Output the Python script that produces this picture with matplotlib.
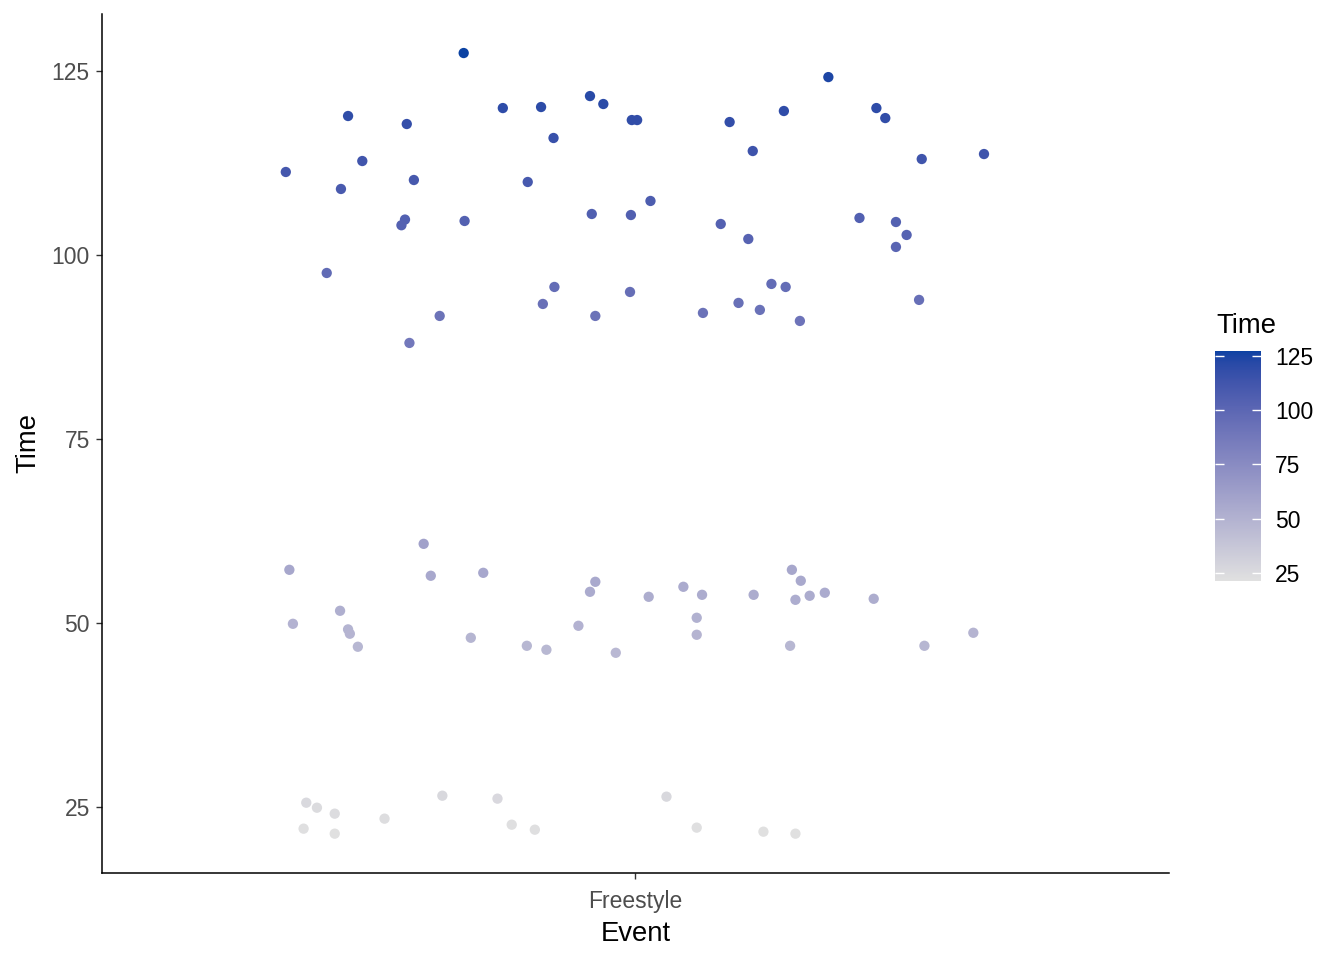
import numpy as np
import matplotlib
matplotlib.use('Agg')
import matplotlib.pyplot as plt
from matplotlib.colors import ListedColormap, Normalize

plt.rcParams['font.family'] = ['Liberation Sans', 'DejaVu Sans']

# one event, points jittered sideways (offsets, in category units)
event = 'Freestyle'

time_100 = [127.45, 118.89, 117.80, 119.97, 120.11, 121.60, 120.52, 118.34, 118.34, 115.90,
            112.77, 111.28, 108.97, 110.19, 109.92, 104.81, 104.04, 104.62, 105.57, 105.43,
            97.55, 95.65, 93.34, 94.97, 91.71, 91.71, 88.04, 124.18, 118.07, 119.57,
            119.97, 118.61, 114.13, 113.04, 113.72, 107.34, 104.21, 102.17, 105.03, 104.48,
            102.72, 101.09, 96.06, 95.65, 92.12, 93.48, 92.53, 91.03, 93.89]
jit_100 = [-0.193, -0.323, -0.257, -0.149, -0.106, -0.051, -0.036, -0.004, 0.002, -0.092,
           -0.307, -0.393, -0.331, -0.249, -0.121, -0.259, -0.263, -0.192, -0.049, -0.005,
           -0.347, -0.091, -0.104, -0.006, -0.220, -0.045, -0.254, 0.217, 0.106, 0.167,
           0.271, 0.281, 0.132, 0.322, 0.392, 0.017, 0.096, 0.127, 0.252, 0.293,
           0.305, 0.293, 0.153, 0.169, 0.076, 0.116, 0.140, 0.185, 0.319]

time_50 = [60.73, 57.20, 56.39, 56.79, 55.57, 54.21, 51.63, 49.86, 49.10, 48.51,
           46.74, 47.96, 49.59, 46.87, 46.33, 45.92, 57.20, 55.71, 54.89, 53.53,
           53.80, 53.80, 53.12, 53.67, 54.08, 53.26, 50.68, 48.37, 46.87, 46.87, 48.64]
jit_50 = [-0.238, -0.389, -0.230, -0.171, -0.045, -0.051, -0.332, -0.385, -0.323, -0.321,
          -0.312, -0.185, -0.064, -0.122, -0.100, -0.022, 0.176, 0.186, 0.054, 0.015,
          0.075, 0.133, 0.180, 0.196, 0.213, 0.268, 0.069, 0.069, 0.174, 0.325, 0.380]

time_25 = [26.49, 26.09, 25.54, 24.86, 24.05, 23.37, 22.55, 22.01, 21.87, 21.33,
           26.36, 22.15, 21.60, 21.33]
jit_25 = [-0.217, -0.155, -0.370, -0.358, -0.338, -0.282, -0.139, -0.373, -0.113, -0.338,
          0.035, 0.069, 0.144, 0.180]

y_ticks = [25, 50, 75, 100, 125]

low_col = '#E0E0E0'
high_col = '#0B42A3'


# gradient in Lab space like ggplot's scale_colour_gradient
WHITE = np.array([0.95047, 1.0, 1.08883])
M = np.array([[0.4124564, 0.3575761, 0.1804375],
              [0.2126729, 0.7151522, 0.0721750],
              [0.0193339, 0.1191920, 0.9503041]])


def hex_to_lab(h):
    c = np.array([int(h[i:i + 2], 16) for i in (1, 3, 5)]) / 255.0
    lin = np.where(c <= 0.04045, c / 12.92, ((c + 0.055) / 1.055) ** 2.4)
    t = (M @ lin) / WHITE
    d = 6 / 29
    f = np.where(t > d ** 3, np.cbrt(t), t / (3 * d * d) + 4 / 29)
    return np.array([116 * f[1] - 16, 500 * (f[0] - f[1]), 200 * (f[1] - f[2])])


def lab_to_rgb(lab):
    L, a, b = lab[:, 0], lab[:, 1], lab[:, 2]
    fy = (L + 16) / 116
    fx = fy + a / 500
    fz = fy - b / 200
    d = 6 / 29
    f = np.stack([fx, fy, fz], axis=1)
    t = np.where(f > d, f ** 3, 3 * d * d * (f - 4 / 29)) * WHITE
    lin = t @ np.linalg.inv(M).T
    lin = np.clip(lin, 0, 1)
    c = np.where(lin <= 0.0031308, 12.92 * lin, 1.055 * lin ** (1 / 2.4) - 0.055)
    return np.clip(c, 0, 1)


w = np.linspace(0, 1, 256)[:, None]
lab = (1 - w) * hex_to_lab(low_col) + w * hex_to_lab(high_col)
cmap = ListedColormap(lab_to_rgb(lab))

times = np.array(time_100 + time_50 + time_25)
xs = 1 + np.array(jit_100 + jit_50 + jit_25)
norm = Normalize(vmin=times.min(), vmax=times.max())

fig = plt.figure(figsize=(13.44, 9.6), dpi=100)
ax = fig.add_axes([101.7 / 1344, 1 - 872.7 / 960, (1169 - 101.7) / 1344, (872.7 - 14) / 960])

sc = ax.scatter(xs, times, c=times, cmap=cmap, norm=norm, s=55, linewidths=0)

ax.set_xlim(0.4, 1.6)
rng = times.max() - times.min()
ax.set_ylim(times.min() - 0.05 * rng, times.max() + 0.05 * rng)
ax.set_xticks([1])
ax.set_xticklabels([event])
ax.set_yticks(y_ticks)

for s in ['top', 'right']:
    ax.spines[s].set_visible(False)
for s in ['left', 'bottom']:
    ax.spines[s].set_linewidth(1.1)
    ax.spines[s].set_color('black')
ax.tick_params(length=4, width=1, color='#333333', labelcolor='#4D4D4D',
               labelsize=16.5)
ax.tick_params(axis='y', pad=4.6)
ax.tick_params(axis='x', pad=8.5)
ax.set_xlabel('Event', fontsize=19.8, labelpad=6)
ax.set_ylabel('Time', fontsize=19.8, labelpad=7)

# colour bar legend
cax = fig.add_axes([1215 / 1344, 1 - 580.7 / 960, 46 / 1344, 230 / 960])
cb = fig.colorbar(sc, cax=cax, ticks=y_ticks)
cb.outline.set_visible(False)
cax.tick_params(which='both', direction='in', color='white', length=6.5, width=1,
                left=True, right=True, labelleft=False, labelright=True,
                labelsize=16.5, pad=10)
fig.text(1216 / 1344, 1 - 333 / 960, 'Time', fontsize=19.8, ha='left', va='baseline')

fig.savefig('out.png', dpi=100)
